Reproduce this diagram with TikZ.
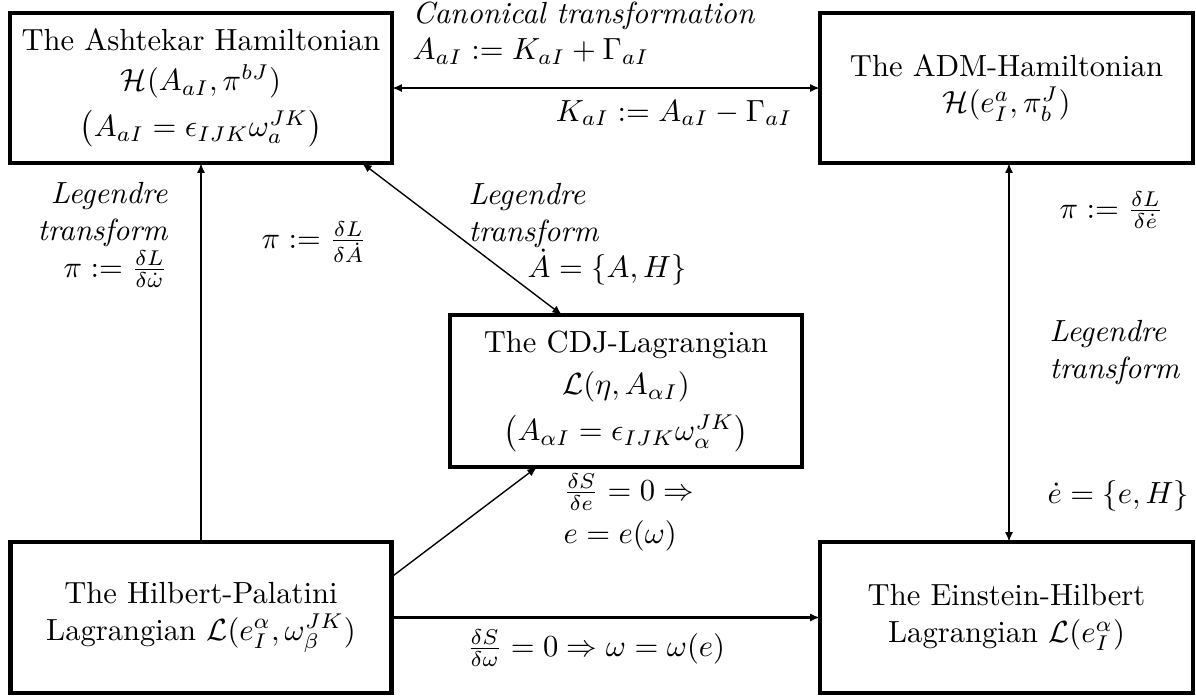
\documentclass[tikz,border=0pt]{standalone}
\usetikzlibrary{arrows.meta}
\def\u{0.327pt}
\begin{document}
\begin{tikzpicture}[x=\u,y=-\u,
  box/.style={draw,line width=1.5pt,align=center,inner sep=0pt,outer sep=0pt},
  conn/.style={line width=0.8pt,>={Latex[length=3.2pt,width=2.6pt]}},
  diag/.style={line width=0.45pt,>={Latex[length=3.2pt,width=2.6pt]}},
  lbl/.style={inner sep=0pt,font=\itshape},
  mlbl/.style={inner sep=0pt}]
\useasboundingbox (0,0) rectangle (1196,696);
% boxes
\node[box,minimum width=382*\u,minimum height=150*\u] (A) at (201,88)
  {The Ashtekar Hamiltonian\\[1pt] $\mathcal{H}(A_{aI},\pi^{bJ})$\\[3pt] $\bigl(A_{aI}=\epsilon_{IJK}\omega_a^{JK}\bigr)$};
\node[box,minimum width=373*\u,minimum height=150*\u] (ADM) at (1006.5,88)
  {The ADM-Hamiltonian\\ $\mathcal{H}(e_I^a,\pi_b^J)$};
\node[box,minimum width=352*\u,minimum height=152*\u] (CDJ) at (626,391)
  {The CDJ-Lagrangian\\[2pt] $\mathcal{L}(\eta,A_{\alpha I})$\\[3pt] $\bigl(A_{\alpha I}=\epsilon_{IJK}\omega_\alpha^{JK}\bigr)$};
\node[box,minimum width=381*\u,minimum height=151*\u] (HP) at (201,617.5)
  {The Hilbert-Palatini\\ Lagrangian $\mathcal{L}(e_I^\alpha,\omega_\beta^{JK})$};
\node[box,minimum width=373*\u,minimum height=151*\u] (EH) at (1006.5,617.5)
  {The Einstein-Hilbert\\ Lagrangian $\mathcal{L}(e_I^\alpha)$};
% connectors
\draw[conn,<->] (A) -- (ADM);
\draw[conn,->] (HP.north) -- (A.south);
\draw[conn,<->] ([xshift=2.5*\u]ADM.south) -- ([xshift=2.5*\u]EH.north);
\draw[conn,->] (HP) -- (EH);
\draw[diag,<->] ([xshift=-30*\u]A.south east) -- ([xshift=-64*\u]CDJ.north);
\draw[diag,->] ([yshift=40.5*\u]HP.east) -- ([xshift=-89*\u]CDJ.south);
% labels
\node[lbl,anchor=north west,align=left] (canon) at (412,1)
  {Canonical transformation\\ $A_{aI}:=K_{aI}+\Gamma_{aI}$};
\node[mlbl,anchor=base east] (kai) at (793,121) {$K_{aI}:=A_{aI}-\Gamma_{aI}$};
\node[lbl,anchor=north east,align=right] (legL) at (168,182)
  {Legendre\\ transform\\ $\pi:=\frac{\delta L}{\delta\dot\omega}$};
\node[mlbl,anchor=west] (piA) at (261,242) {$\pi:=\frac{\delta L}{\delta\dot A}$};
\node[lbl,anchor=north west,align=left] (legD) at (468,183) {Legendre\\ transform};
\node[mlbl,anchor=base west] (Adot) at (527,277) {$\dot A=\{A,H\}$};
\node[mlbl,anchor=west] (pie) at (1059,210) {$\pi:=\frac{\delta L}{\delta\dot e}$};
\node[lbl,anchor=north west,align=left] (legR) at (1049,320) {Legendre\\ transform};
\node[mlbl,anchor=base west] (edot) at (1047,503) {$\dot e=\{e,H\}$};
\node[mlbl,anchor=west] (dSe) at (563,492) {$\frac{\delta S}{\delta e}=0\Rightarrow$};
\node[mlbl,anchor=base west] (eom) at (563,543) {$e=e(\omega)$};
\node[mlbl] (dSw) at (596,648) {$\frac{\delta S}{\delta\omega}=0\Rightarrow\omega=\omega(e)$};
\end{tikzpicture}
\end{document}
